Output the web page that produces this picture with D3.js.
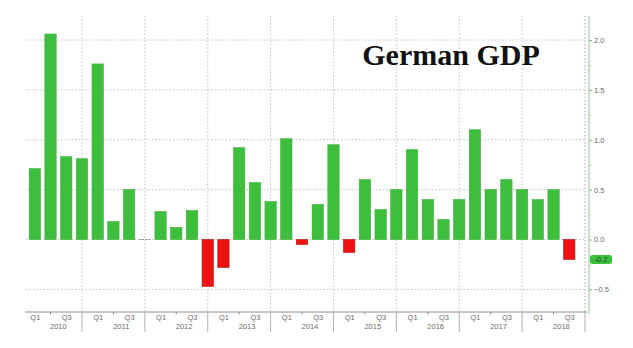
<!DOCTYPE html>
<html>
<head>
<meta charset="utf-8">
<script src="https://cdn.jsdelivr.net/npm/d3@7"></script>
<style>
  html, body { margin: 0; padding: 0; background: #fff; }
  svg { display: block; }
</style>
</head>
<body>
<svg id="chart" width="633" height="348"></svg>
<script>
// German GDP, quarter-on-quarter growth (%), 2010 Q1 – 2018 Q3
const years = ["2010", "2011", "2012", "2013", "2014", "2015", "2016", "2017", "2018"];
const quarters = ["Q1", "Q2", "Q3", "Q4"];
const gdpGrowth = [
  0.71, 2.06, 0.83, 0.81,
  1.76, 0.18, 0.50, 0.00,
  0.28, 0.12, 0.29, -0.47,
  -0.28, 0.92, 0.57, 0.38,
  1.01, -0.05, 0.35, 0.95,
  -0.13, 0.60, 0.30, 0.50,
  0.90, 0.40, 0.20, 0.40,
  1.10, 0.50, 0.60, 0.50,
  0.40, 0.50, -0.20
];
const yTicks = [-0.5, 0.0, 0.5, 1.0, 1.5, 2.0];
const yMinorTicks = [-0.25, 0.25, 0.75, 1.25, 1.75];
const lastLabel = "-0.2";
const title = "German GDP";

const svg = d3.select("#chart");
const W = 633, H = 348;

const plot = { left: 26, right: 586, top: 16, bottom: 312 };
const nSlots = years.length * 4; // includes the empty slot after the last quarter

// quarter index -> bar centre
const x = d3.scaleLinear().domain([0, nSlots - 1]).range([34.8, 585]);
const y = d3.scaleLinear().domain([0, 2]).range([239.5, 40]);
const barW = 11.3;

const gridColor = "#c4c4cc";
const textColor = "#6b6b6b";

// horizontal dotted gridlines
svg.append("g").selectAll("line").data(yTicks).join("line")
  .attr("x1", plot.left).attr("x2", plot.right)
  .attr("y1", d => y(d)).attr("y2", d => y(d))
  .attr("stroke", gridColor).attr("stroke-width", 1)
  .attr("stroke-dasharray", "1.5,2");

// vertical dotted gridlines at year boundaries
const yearEnds = d3.range(years.length).map(k => 4 * k + 3);
svg.append("g").selectAll("line").data(yearEnds).join("line")
  .attr("x1", d => x(d)).attr("x2", d => x(d))
  .attr("y1", plot.top).attr("y2", plot.bottom)
  .attr("stroke", gridColor).attr("stroke-width", 1)
  .attr("stroke-dasharray", "1.5,2");

// bars
const bars = svg.append("g");
bars.selectAll("rect").data(gdpGrowth).join("rect")
  .attr("x", (d, i) => x(i) - barW / 2)
  .attr("width", barW)
  .attr("y", d => y(Math.max(0, d)))
  .attr("height", d => Math.abs(y(d) - y(0)))
  .attr("fill", d => d < 0 ? "#ee1111" : "#3dbf3d")
  .attr("stroke", d => d < 0 ? "#b01010" : "#36b036")
  .attr("stroke-width", 0.6);

// zero-height bars drawn as a flat marker
bars.selectAll("line.zero").data(gdpGrowth.map((v, i) => ({ v, i })).filter(d => d.v === 0))
  .join("line").attr("class", "zero")
  .attr("x1", d => x(d.i) - barW / 2).attr("x2", d => x(d.i) + barW / 2)
  .attr("y1", y(0)).attr("y2", y(0))
  .attr("stroke", "#8a8aa8").attr("stroke-width", 1)
  .attr("stroke-dasharray", "2,1");

// right value axis
const yAxis = svg.append("g")
  .attr("transform", `translate(589,0)`)
  .call(d3.axisRight(y).tickValues(yTicks).tickSize(3).tickPadding(2).tickFormat(d3.format(".1f")));
yAxis.select(".domain").remove();
yAxis.selectAll("line").attr("stroke", "#7cb87c");
yAxis.selectAll("text").attr("fill", textColor)
  .style("font-family", "'Liberation Sans', Arial, sans-serif").style("font-size", "7.5px");

const yMinor = svg.append("g")
  .attr("transform", `translate(589,0)`)
  .call(d3.axisRight(y).tickValues(yMinorTicks).tickSize(2).tickFormat(""));
yMinor.select(".domain").remove();
yMinor.selectAll("line").attr("stroke", "#a8cfa8");

// green axis rule and the dotted rule beside it
svg.append("line").attr("x1", 585).attr("x2", 585).attr("y1", plot.top).attr("y2", plot.bottom)
  .attr("stroke", gridColor).attr("stroke-dasharray", "1.5,2");
svg.append("line").attr("x1", 589).attr("x2", 589).attr("y1", plot.top).attr("y2", plot.bottom + 2)
  .attr("stroke", "#9fd09f").attr("stroke-width", 1.2);

// latest value tag
const lastVal = gdpGrowth[gdpGrowth.length - 1];
const tag = svg.append("g").attr("transform", `translate(590,${y(lastVal)})`);
tag.append("rect").attr("x", 0).attr("y", -4.5).attr("width", 22).attr("height", 9)
  .attr("rx", 2.5).attr("fill", "#3dbf3d");
tag.append("text").attr("x", 11).attr("y", 2.8).attr("text-anchor", "middle")
  .attr("fill", "#1d4a1d")
  .style("font-family", "'Liberation Sans', Arial, sans-serif").style("font-size", "7.5px")
  .text(lastLabel);

// bottom time axis
svg.append("line").attr("x1", 25).attr("x2", 587)
  .attr("y1", plot.bottom).attr("y2", plot.bottom)
  .attr("stroke", "#8c8c8c").attr("stroke-width", 1);

const qLabelIdx = d3.range(nSlots).filter(i => i % 4 === 0 || i % 4 === 2).filter(i => i < gdpGrowth.length);
const xAxis = svg.append("g")
  .attr("transform", `translate(0,${plot.bottom})`)
  .call(d3.axisBottom(x).tickValues(qLabelIdx).tickSize(0).tickPadding(3)
    .tickFormat(i => quarters[i % 4]));
xAxis.select(".domain").remove();
xAxis.selectAll("text").attr("fill", textColor)
  .style("font-family", "'Liberation Sans', Arial, sans-serif").style("font-size", "7.5px");

// small ticks at Q2
const q2Idx = d3.range(nSlots).filter(i => i % 4 === 1);
svg.append("g").selectAll("line").data(q2Idx).join("line")
  .attr("x1", d => x(d)).attr("x2", d => x(d))
  .attr("y1", plot.bottom).attr("y2", plot.bottom + 2.5)
  .attr("stroke", "#8c8c8c");

// year separators
svg.append("g").selectAll("line").data(yearEnds).join("line")
  .attr("x1", d => x(d)).attr("x2", d => x(d))
  .attr("y1", plot.bottom).attr("y2", plot.bottom + 20)
  .attr("stroke", "#b0b0b0").attr("stroke-width", 1);

// year labels
svg.append("g").selectAll("text").data(years).join("text")
  .attr("x", (d, k) => x(4 * k + 1.5))
  .attr("y", plot.bottom + 17)
  .attr("text-anchor", "middle")
  .attr("fill", textColor)
  .style("font-family", "'Liberation Sans', Arial, sans-serif").style("font-size", "7.5px")
  .text(d => d);

// title
svg.append("text")
  .attr("x", 451).attr("y", 65)
  .attr("text-anchor", "middle")
  .attr("fill", "#111")
  .style("font-family", "'Liberation Serif', 'Times New Roman', serif")
  .style("font-weight", "bold").style("font-size", "30px")
  .text(title);
</script>
</body>
</html>
